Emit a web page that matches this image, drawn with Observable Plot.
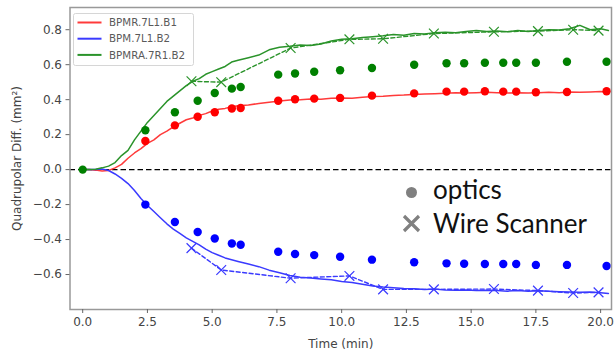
<!DOCTYPE html>
<html>
<head>
<meta charset="utf-8">
<script src="https://cdn.jsdelivr.net/npm/d3@7"></script>
<script src="https://cdn.jsdelivr.net/npm/@observablehq/plot@0.6"></script>
<style>
  html, body { margin: 0; padding: 0; background: #fff; }
  #chart { position: relative; width: 614px; height: 351px; }
</style>
</head>
<body>
<div id="chart"></div>
<script>
// ---- data ----
const seriesNames = ["BPMR.7L1.B1", "BPM.7L1.B2", "BPMRA.7R1.B2"];
const seriesColors = ["#ff0000", "#0000ff", "#008000"];
const lineColors = ["#ff3a3a", "#3a3aff", "#2a932a"];

const bpmTime = [0, 0.25, 0.5, 0.75, 1.0, 1.25, 1.5, 1.75, 2.0, 2.25, 2.5, 2.75, 3.0, 3.25, 3.5, 3.75, 4.0, 4.25, 4.5, 4.75, 5.0, 5.25, 5.5, 5.75, 6.0,
  6.4, 6.8, 7.2, 7.6, 8.0, 8.4, 8.8, 9.2, 9.6, 10.0, 10.4, 10.8, 11.2, 11.6, 12.0, 12.4, 12.8, 13.2, 13.6, 14.0, 14.4, 14.8, 15.2, 15.6, 16.0,
  16.4, 16.8, 17.2, 17.6, 18.0, 18.4, 18.8, 19.2, 19.6, 20.0, 20.3];
const bpmRed = [0, 0, -0.003, -0.008, -0.005, 0.01, 0.03, 0.065, 0.095, 0.12, 0.15, 0.17, 0.2, 0.22, 0.245, 0.265, 0.285, 0.295, 0.31, 0.32, 0.335, 0.345, 0.35, 0.36, 0.365,
  0.37, 0.378, 0.385, 0.392, 0.398, 0.4, 0.404, 0.402, 0.408, 0.41, 0.408, 0.414, 0.418, 0.42, 0.424, 0.426, 0.43, 0.432, 0.434, 0.436, 0.44, 0.438, 0.44, 0.442, 0.44,
  0.438, 0.44, 0.438, 0.44, 0.442, 0.44, 0.444, 0.442, 0.444, 0.446, 0.444];
const bpmBlue = [0, 0, 0, 0.003, -0.005, -0.025, -0.05, -0.08, -0.12, -0.165, -0.205, -0.24, -0.275, -0.31, -0.34, -0.365, -0.39, -0.41, -0.43, -0.455, -0.475, -0.49, -0.505, -0.515, -0.525,
  -0.54, -0.555, -0.575, -0.59, -0.605, -0.615, -0.62, -0.625, -0.63, -0.64, -0.645, -0.655, -0.665, -0.672, -0.675, -0.68, -0.682, -0.685, -0.683, -0.688, -0.69, -0.688, -0.692, -0.69, -0.692,
  -0.695, -0.692, -0.695, -0.693, -0.696, -0.698, -0.7, -0.702, -0.7, -0.704, -0.708];
const bpmGreen = [0, 0, 0.002, 0.01, 0.02, 0.04, 0.08, 0.11, 0.17, 0.22, 0.27, 0.31, 0.35, 0.39, 0.42, 0.45, 0.48, 0.505, 0.52, 0.545, 0.56, 0.575, 0.59, 0.615, 0.625,
  0.64, 0.655, 0.685, 0.7, 0.705, 0.712, 0.71, 0.718, 0.735, 0.745, 0.748, 0.755, 0.76, 0.765, 0.772, 0.768, 0.778, 0.775, 0.782, 0.785, 0.782, 0.79, 0.795, 0.79, 0.792,
  0.788, 0.795, 0.79, 0.795, 0.8, 0.798, 0.805, 0.825, 0.8, 0.805, 0.795];

const opticsTime = [2.42, 3.56, 4.44, 5.1, 5.76, 6.1, 7.55, 8.2, 8.94, 9.94, 11.17, 12.8, 14.05, 14.73, 15.53, 16.24, 16.74, 17.5, 18.7, 20.23];
const opticsRed = [0.164, 0.253, 0.302, 0.328, 0.349, 0.352, 0.394, 0.402, 0.406, 0.41, 0.423, 0.436, 0.446, 0.446, 0.448, 0.446, 0.446, 0.442, 0.444, 0.448];
const opticsBlue = [-0.2, -0.3, -0.357, -0.394, -0.423, -0.43, -0.47, -0.483, -0.489, -0.498, -0.515, -0.53, -0.536, -0.538, -0.54, -0.54, -0.54, -0.545, -0.545, -0.551];
const opticsGreen = [0.225, 0.328, 0.394, 0.438, 0.463, 0.472, 0.543, 0.55, 0.56, 0.568, 0.581, 0.6, 0.608, 0.608, 0.611, 0.611, 0.611, 0.611, 0.617, 0.617];
const opticsOrigin = [{t: 0, v: 0}];

const wsTime = [4.2, 5.35, 8.03, 10.3, 11.6, 13.56, 15.88, 17.58, 18.94, 19.92];
const wsBlue = [-0.449, -0.574, -0.621, -0.608, -0.685, -0.685, -0.683, -0.692, -0.706, -0.702];
const wsGreen = [0.505, 0.5, 0.695, 0.745, 0.748, 0.778, 0.788, 0.792, 0.8, 0.795];

const xTicks = [0, 2.5, 5, 7.5, 10, 12.5, 15, 17.5, 20];
const yTicks = [-0.6, -0.4, -0.2, 0, 0.2, 0.4, 0.6, 0.8];
const xLabel = "Time (min)";
const yLabel = "Quadrupolar Diff. (mm²)";
const markerLegend = ["optics", "Wire Scanner"];

// ---- tables ----
const bpmValues = [bpmRed, bpmBlue, bpmGreen];
const bpmRows = bpmValues.flatMap((vals, s) => vals.map((v, i) => ({t: bpmTime[i], v, s})));
const opticsValues = [opticsRed, opticsBlue, opticsGreen];
const opticsRows = opticsValues.flatMap((vals, s) => vals.map((v, i) => ({t: opticsTime[i], v, s})));
const wsRows = [[1, wsBlue], [2, wsGreen]].flatMap(([s, vals]) => vals.map((v, i) => ({t: wsTime[i], v, s})));

const fmt = d => (d < 0 ? "\u2212" : "") + Math.abs(d).toFixed(1);

// legend rendered as a custom mark
function legendMark() {
  const g = d3.create("svg:g").attr("text-anchor", "start");
  g.append("rect").attr("x", 73.5).attr("y", 13.5).attr("width", 120).attr("height", 52)
    .attr("rx", 2).attr("fill", "white").attr("fill-opacity", 0.85).attr("stroke", "#d6d6d6");
  seriesNames.forEach((name, i) => {
    const y = 22.5 + i * 16.2;
    g.append("line").attr("x1", 77.5).attr("x2", 101.5).attr("y1", y).attr("y2", y)
      .attr("stroke", lineColors[i]).attr("stroke-width", 2);
    g.append("text").attr("x", 109).attr("y", y).attr("dy", "0.35em")
      .attr("font-family", "DejaVu Sans").attr("font-size", 10.3).attr("fill", "#5a5a5a").text(name);
  });
  return g.node();
}
function markerLegendMark() {
  const g = d3.create("svg:g").attr("text-anchor", "start");
  g.append("circle").attr("cx", 411.5).attr("cy", 192.5).attr("r", 5.5).attr("fill", "#808080");
  const cx = 411.5, cy = 223.5, h = 7.5;
  g.append("path").attr("d", `M${cx-h},${cy-h}L${cx+h},${cy+h}M${cx-h},${cy+h}L${cx+h},${cy-h}`)
    .attr("stroke", "#808080").attr("stroke-width", 3.2);
  markerLegend.forEach((txt, i) => {
    g.append("text").attr("x", 433).attr("y", 199 + i * 34)
      .attr("font-family", "Lato").attr("font-size", 26).attr("fill", "#111").text(txt);
  });
  return g.node();
}

const chart = Plot.plot({
  width: 614,
  height: 351,
  marginLeft: 69.5,
  marginRight: 3,
  marginTop: 7,
  marginBottom: 42,
  x: {domain: [-0.49, 20.42]},
  y: {domain: [-0.8, 0.927]},
  style: {fontFamily: "DejaVu Sans", fontSize: "12px", color: "#444", background: "white"},
  marks: [
    Plot.ruleY([0], {stroke: "black", strokeDasharray: "5.5,3", strokeWidth: 1.4}),
    Plot.line(bpmRows, {x: "t", y: "v", z: "s", stroke: d => lineColors[d.s], strokeWidth: 1.5, curve: "linear"}),
    Plot.line(wsRows, {x: "t", y: "v", z: "s", stroke: d => lineColors[d.s], strokeWidth: 1.4, strokeDasharray: "4,2.5"}),
    Plot.dot(wsRows, {x: "t", y: "v", symbol: "times", r: 4.5, stroke: d => lineColors[d.s], strokeWidth: 1.2}),
    Plot.dot(opticsRows, {x: "t", y: "v", r: 4.2, fill: d => seriesColors[d.s], stroke: "none"}),
    Plot.dot(opticsOrigin, {x: "t", y: "v", r: 4.2, fill: seriesColors[2], stroke: "none"}),
    Plot.frame({stroke: "#999", strokeWidth: 1.5}),
    Plot.axisX({ticks: xTicks, tickFormat: fmt, tickSize: 4, tickPadding: 4, stroke: "#666",
      label: xLabel, labelAnchor: "center", labelOffset: 38, fill: "#444", labelArrow: "none"}),
    Plot.axisY({ticks: yTicks, tickFormat: fmt, tickSize: 4, tickPadding: 4, stroke: "#666",
      label: yLabel, labelAnchor: "center", labelOffset: 58, fill: "#444", labelArrow: "none"}),
    legendMark,
    markerLegendMark
  ]
});
document.getElementById("chart").appendChild(chart);
</script>
</body>
</html>
